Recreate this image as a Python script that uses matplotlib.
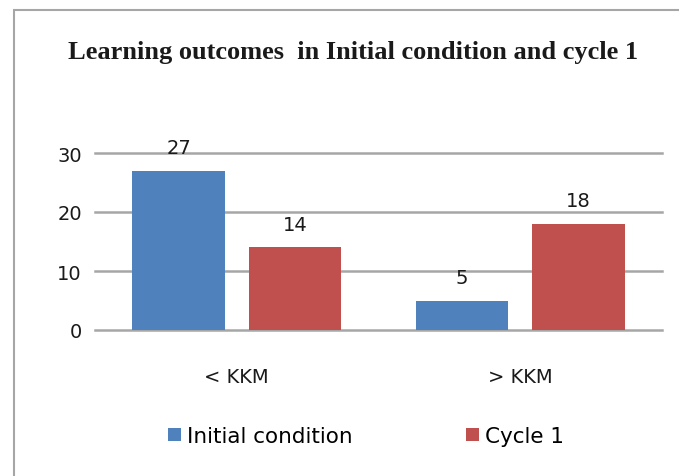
import numpy as np
import matplotlib
matplotlib.use("Agg")
import matplotlib.pyplot as plt
from matplotlib.patches import Rectangle


# -------------------------------------------------
# Data
# -------------------------------------------------
categories = ["< KKM", "> KKM"]
series_names = ["Initial condition", "Cycle 1"]
initial_vals = [27, 5]
cycle1_vals = [14, 18]
y_ticks = [0, 10, 20, 30]

colors = ["#4F81BD", "#C0504D"]


# -------------------------------------------------
# Plotting
# -------------------------------------------------
fig = plt.figure(figsize=(6.79, 4.77), dpi=100)

# chart border (top and left visible, runs off the right/bottom)
fig.patches.append(Rectangle((14 / 679, -0.05), 1.2, 1 - 11 / 477 + 0.05,
                             transform=fig.transFigure, fill=False,
                             edgecolor="#a6a6a6", linewidth=1.5))

ax = fig.add_axes([95 / 679, 1 - 331 / 477, (662 - 95) / 679, (331 - 154) / 477])

x = np.arange(len(categories))
width = 0.327
offset = 0.205

bars1 = ax.bar(x - offset, initial_vals, width, color=colors[0], label=series_names[0], zorder=3)
bars2 = ax.bar(x + offset, cycle1_vals, width, color=colors[1], label=series_names[1], zorder=3)

for bars in (bars1, bars2):
    for b in bars:
        ax.annotate(f"{int(b.get_height())}", (b.get_x() + b.get_width() / 2, b.get_height()),
                    xytext=(0, 16.5), textcoords="offset points",
                    ha="center", va="center", fontsize=14, color="#1a1a1a",
                    annotation_clip=False)

ax.set_xlim(-0.5, 1.5)
ax.set_ylim(0, 30)
ax.set_yticks(y_ticks)
ax.set_xticks(x)
ax.set_xticklabels(categories)
ax.tick_params(axis="both", length=0, labelsize=14, colors="#1a1a1a")
ax.tick_params(axis="y", pad=9.5)
ax.tick_params(axis="x", pad=26.5)

ax.grid(axis="y", color="#a6a6a6", linewidth=1.8, zorder=0)
for gl in ax.get_ygridlines():
    gl.set_clip_on(False)
for s in ax.spines.values():
    s.set_visible(False)

# title
fig.text(353 / 679, 1 - 59 / 477, "Learning outcomes  in Initial condition and cycle 1",
         ha="center", va="baseline", fontsize=19, fontweight="bold",
         family="Liberation Serif", color="#1a1a1a")

# legend
fig.legend(handles=[bars1, bars2], labels=series_names, loc="center",
           bbox_to_anchor=(366 / 679, 1 - 437 / 477), ncol=2, frameon=False,
           fontsize=15.5, handlelength=0.6, handleheight=0.6,
           handletextpad=0.25, columnspacing=5.3)

fig.savefig("out.png", dpi=100)
